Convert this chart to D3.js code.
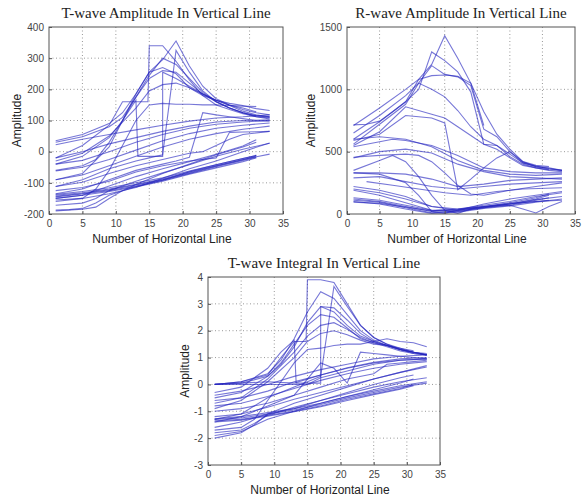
<!DOCTYPE html>
<html>
<head>
<meta charset="utf-8">
<script src="https://cdn.jsdelivr.net/npm/d3@7"></script>
<style>
  body { margin: 0; background: #fff; }
  svg { display: block; }
</style>
</head>
<body>
<script>
// x ticks are shared by all three panels
const xTicks = [0, 5, 10, 15, 20, 25, 30, 35];
const tAmpTicks = [-200, -100, 0, 100, 200, 300, 400];
const rAmpTicks = [0, 500, 1000, 1500];
const tIntTicks = [-3, -2, -1, 0, 1, 2, 3, 4];

// each series is a list of [horizontal line number, amplitude] vertices
const tAmpSeries = [
  [[1,35],[5,55],[9,90],[11,125],[13,185],[15,255],[17,295],[19,355],[21,275],[23,210],[25,170],[27,150],[29,135],[31,125],[33,118]],
  [[1,30],[5,48],[9,80],[11,110],[13,175],[15,245],[17,300],[19,280],[21,235],[23,190],[25,160],[27,140],[29,125],[31,115],[33,110]],
  [[1,-20],[5,20],[9,85],[11,160],[14.8,160],[15,340],[17,340],[19,290],[21,230],[23,180],[25,150],[27,135],[29,122],[31,112],[33,108]],
  [[1,-40],[5,-15],[9,45],[11,100],[13,175],[15,235],[17,260],[19,255],[21,220],[23,185],[25,165],[27,148],[29,130],[31,118],[33,112]],
  [[1,-60],[5,-45],[7,-25],[9,30],[11,100],[13,185],[15,255],[17,270],[19,250],[21,205],[23,180],[25,165],[27,155],[29,148],[31,138],[33,132]],
  [[1,-90],[5,-70],[9,15],[11,100],[13,165],[13.3,-15],[17,-15],[17,255],[19,235],[21,210],[23,185],[25,160],[27,140],[29,125],[31,112],[33,105]],
  [[1,-112],[5,-90],[9,-55],[13,-30],[15,-20],[17,-10],[19,325],[21,255],[23,195],[25,160],[27,140],[29,125],[31,115],[33,112]],
  [[1,-30],[5,-5],[9,50],[13,140],[15,195],[17,215],[19,220],[21,205],[23,185],[25,165],[27,150],[29,140],[31,128]],
  [[1,-160],[5,-150],[7,-120],[9,-60],[11,20],[13,100],[15,150],[17,155],[19,152],[21,152],[23,150],[25,150],[27,148],[29,146],[31,145]],
  [[1,22],[5,40],[9,55],[13,70],[17,85],[21,98],[25,108],[29,112],[33,118]],
  [[1,-20],[5,0],[9,25],[13,45],[17,65],[21,82],[25,95],[29,100],[33,102]],
  [[1,-40],[5,-28],[9,0],[13,30],[17,55],[21,75],[25,88],[29,95],[33,100]],
  [[1,-62],[5,-50],[9,-25],[13,5],[17,35],[21,58],[25,75],[29,85],[33,92]],
  [[1,-90],[5,-75],[9,-45],[13,-15],[17,15],[21,40],[25,58],[29,72],[33,82]],
  [[1,-135],[5,-120],[9,-90],[13,-60],[17,-40],[19,-30],[21,-18],[23,125],[25,118],[27,112],[29,106],[31,100],[33,98]],
  [[1,-112],[5,-98],[9,-70],[13,-45],[17,-25],[21,-5],[23,0],[25,20],[27,40],[29,55],[33,65]],
  [[1,-125],[5,-115],[9,-95],[13,-65],[17,-45],[21,-30],[25,-20],[27,62],[29,63],[31,64],[33,65]],
  [[1,-150],[5,-140],[9,-110],[13,-80],[17,-55],[21,-32],[25,-8],[29,18],[31,38]],
  [[1,-172],[5,-165],[7,-150],[9,-125],[13,-95],[17,-68],[21,-42],[25,-15],[29,8],[33,27]],
  [[1,-140],[5,-132],[9,-120],[13,-105],[17,-88],[21,-65],[25,-45],[29,-25],[33,-8]],
  [[1,-145],[5,-136],[9,-125],[13,-110],[17,-92],[21,-70],[25,-48],[29,-28],[31,-18]],
  [[1,-150],[5,-140],[9,-128],[13,-113],[17,-95],[21,-72],[25,-52],[29,-32],[31,-20]],
  [[1,-137],[5,-128],[9,-116],[13,-100],[17,-84],[21,-62],[25,-42],[29,-22],[31,-12]],
  [[1,-143],[5,-134],[9,-122],[13,-107],[17,-90],[21,-68],[25,-46],[29,-26],[31,-14]],
  [[1,-187],[3,-186],[5,-182],[7,-165],[9,-140],[13,-112],[17,-92],[21,-64],[25,-42],[29,-22],[31,-12]],
  [[1,-190],[5,-185],[7,-178],[9,-150],[11,-125],[13,-105],[17,-70],[21,-40],[25,-10],[29,15],[31,30]],
  [[1,-155],[5,-150],[9,-135],[13,-115],[17,-85],[21,-55],[25,-30],[29,0],[33,28]]
];

const rAmpSeries = [
  [[1,710],[5,850],[9,1000],[11,1080],[13,1200],[15,1430],[17,1250],[19,1050],[21,710]],
  [[1,715],[3,720],[5,745],[7,820],[9,900],[11,1000],[13,1300],[15,1230],[17,1140],[19,980],[21,560],[23,550],[25,460],[27,400],[29,370],[31,355]],
  [[1,650],[5,790],[9,950],[11,1050],[13,1190],[15,1120],[17,1100],[19,1030],[21,680],[23,620],[25,500],[27,410],[29,380],[31,370],[33,350]],
  [[1,600],[5,740],[9,900],[11,1080],[13,1110],[15,1115],[17,1105],[19,1050],[21,820],[23,640],[25,520],[27,420],[29,390],[31,380]],
  [[1,560],[5,720],[9,880],[11,1050],[13,1000],[15,940],[17,830],[19,700],[21,600],[23,550],[25,480],[27,410],[29,385],[31,365],[33,350]],
  [[1,550],[5,660],[9,860],[13,800],[15,770],[17,700],[19,630],[21,560],[23,520],[25,450],[27,390],[29,370],[31,350],[33,340]],
  [[1,590],[5,640],[9,790],[13,770],[15,730],[17,195],[19,280],[21,370],[23,450],[25,500],[27,420],[29,380],[31,360],[33,350]],
  [[1,600],[5,620],[9,600],[13,540],[17,430],[21,350],[25,320],[29,310],[33,320]],
  [[1,540],[5,580],[7,600],[9,590],[13,550],[17,470],[21,370],[25,340],[29,330],[33,330]],
  [[1,450],[5,500],[9,520],[13,490],[17,400],[21,340],[25,300],[29,290],[33,280]],
  [[1,455],[5,470],[9,480],[11,470],[13,420],[15,330],[17,230],[19,160],[21,150],[25,190],[29,220],[33,250]],
  [[1,350],[5,430],[7,470],[9,420],[11,300],[13,150],[15,30],[17,5],[19,40],[23,70],[27,90],[31,110]],
  [[1,330],[5,320],[9,250],[11,150],[13,20],[15,5],[17,30],[21,80],[25,120],[29,150],[33,180]],
  [[1,290],[5,300],[9,260],[13,220],[17,200],[21,220],[25,240],[29,250],[33,260]],
  [[3,260],[7,230],[11,200],[15,170],[19,150],[23,180],[27,200],[33,210]],
  [[1,330],[5,330],[9,320],[13,280],[17,220],[21,240],[25,270],[29,280],[33,290]],
  [[1,200],[5,170],[9,120],[13,60],[17,40],[21,70],[25,100],[29,140],[33,170]],
  [[1,190],[5,150],[9,90],[13,30],[17,20],[21,50],[25,80],[29,120],[31,150]],
  [[1,120],[5,100],[9,60],[13,20],[17,30],[21,55],[25,80],[29,115],[33,140]],
  [[1,110],[5,95],[9,50],[13,10],[17,25],[21,50],[25,70],[29,110],[31,130]],
  [[1,100],[5,80],[9,40],[13,5],[17,15],[21,45],[25,65],[29,95],[33,120]],
  [[1,130],[5,110],[9,70],[13,30],[17,35],[21,60],[25,90],[29,130],[31,160]],
  [[1,220],[5,190],[9,140],[13,60],[17,30],[21,60],[25,70],[27,40],[29,8],[31,60],[33,100]],
  [[1,95],[5,85],[9,55],[13,25],[17,40],[21,60],[25,85],[29,100],[33,110]]
];

const tIntSeries = [
  [[1,0],[5,0.1],[9,0.35],[11,1.0],[13,1.6],[14.8,1.6],[15,3.9],[17,3.9],[19,3.8],[21,3.0],[23,2.2],[25,1.75],[27,1.5],[29,1.3],[31,1.2],[33,1.1]],
  [[1,-0.3],[5,-0.1],[9,0.6],[11,1.2],[13,1.65],[13.3,0.05],[17,0.05],[17,2.9],[19,2.7],[21,2.2],[23,1.8],[25,1.6],[27,1.45],[29,1.3],[31,1.2],[33,1.1]],
  [[1,-1.3],[5,-1.1],[9,-0.5],[13,-0.1],[15,0.1],[17,0.3],[19,3.65],[21,2.9],[23,2.2],[25,1.75],[27,1.5],[29,1.35],[31,1.2],[33,1.15]],
  [[1,0],[5,0.1],[9,0.4],[11,0.9],[13,1.7],[15,2.7],[17,3.45],[19,3.2],[21,2.6],[23,2.0],[25,1.65],[27,1.45],[29,1.3],[31,1.15],[33,1.1]],
  [[1,0],[5,0.05],[9,0.3],[11,0.75],[13,1.4],[15,2.3],[17,2.9],[19,2.85],[21,2.4],[23,1.9],[25,1.6],[27,1.45],[29,1.3],[31,1.2]],
  [[1,-0.5],[5,-0.3],[9,0.3],[11,0.8],[13,1.5],[15,2.2],[17,2.6],[19,2.5],[21,2.1],[23,1.7],[25,1.55],[27,1.4],[29,1.25],[31,1.15],[33,1.1]],
  [[1,-0.7],[5,-0.5],[9,0.2],[13,1.2],[15,1.8],[17,2.2],[19,2.3],[21,2.05],[23,1.75],[25,1.55],[27,1.45],[29,1.3],[31,1.2],[33,1.1]],
  [[1,-0.9],[5,-0.6],[9,0.1],[13,1.0],[15,1.6],[17,1.9],[19,2.0],[21,1.85],[23,1.65],[25,1.5],[27,1.45],[29,1.35],[31,1.25]],
  [[1,-1.7],[5,-1.6],[7,-1.3],[9,-0.6],[11,0.1],[13,0.8],[15,1.3],[17,1.35],[19,1.45],[21,1.5],[23,1.5],[25,1.6],[27,1.7],[29,1.6],[31,1.55],[33,1.4]],
  [[1,0],[3,0],[5,0],[9,0],[13,0],[15,0],[17,0.25],[21,0.5],[25,0.75],[29,0.9],[33,0.95]],
  [[1,0.02],[5,0.05],[9,0.1],[13,0.05],[17,0.35],[21,0.62],[25,0.82],[29,0.95],[33,1.0]],
  [[1,-0.4],[5,-0.25],[9,0],[13,0.3],[17,0.55],[21,0.75],[25,0.95],[29,1.05],[33,1.1]],
  [[1,-0.6],[5,-0.5],[9,-0.25],[13,0.1],[17,0.35],[21,0.6],[25,0.8],[29,0.9],[33,0.95]],
  [[1,-1.4],[5,-1.2],[9,-0.8],[13,-0.4],[17,0.8],[19,0.6],[21,0.05],[23,1.2],[25,1.15],[27,1.1],[29,1.05],[31,1.0],[33,0.95]],
  [[1,-0.8],[5,-0.7],[9,-0.45],[13,-0.15],[17,0.15],[21,0.4],[25,0.6],[29,0.75],[33,0.85]],
  [[1,-1.0],[5,-0.9],[9,-0.7],[13,-0.4],[17,-0.1],[21,0.2],[25,0.4],[27,0.75],[29,0.8],[31,0.85],[33,0.9]],
  [[1,-1.2],[5,-1.1],[9,-0.85],[13,-0.55],[17,-0.3],[21,-0.05],[25,0.2],[29,0.45],[33,0.65]],
  [[1,-1.3],[5,-1.25],[9,-1.1],[13,-0.95],[17,-0.75],[21,-0.5],[25,-0.3],[29,-0.1],[33,0.05]],
  [[1,-1.35],[5,-1.3],[9,-1.15],[13,-1.0],[17,-0.8],[21,-0.55],[25,-0.35],[29,-0.15],[31,0]],
  [[1,-1.28],[5,-1.2],[9,-1.05],[13,-0.9],[17,-0.7],[21,-0.45],[25,-0.25],[29,-0.05],[33,0.1]],
  [[1,-1.4],[5,-1.33],[9,-1.18],[13,-1.02],[17,-0.83],[21,-0.6],[25,-0.38],[29,-0.18],[31,-0.05]],
  [[1,-1.6],[5,-1.4],[9,-1.1],[13,-0.9],[17,-0.6],[21,-0.35],[25,-0.1],[29,0.1],[33,0.25]],
  [[1,-1.8],[5,-1.7],[7,-1.45],[9,-1.15],[13,-0.85],[17,-0.6],[21,-0.3],[25,0],[29,0.25],[31,0.35]],
  [[1,-2.0],[5,-1.8],[7,-1.5],[9,-1.1],[13,-0.7],[17,-0.4],[21,-0.1],[25,0.2],[29,0.45],[33,0.7]],
  [[1,-1.9],[5,-1.75],[9,-1.3],[13,-1.0],[17,-0.7],[21,-0.45],[25,-0.2],[29,0.05],[31,0.2]]
];

const width = 582, height = 499;

const svg = d3.select("body").append("svg")
    .attr("width", width)
    .attr("height", height);

const panels = [
  { title: "T-wave Amplitude In Vertical Line", series: tAmpSeries, yTicks: tAmpTicks, yDomain: [-200, 400],
    left: 49, top: 27, w: 234, h: 187, ylabX: 17 },
  { title: "R-wave Amplitude In Vertical Line", series: rAmpSeries, yTicks: rAmpTicks, yDomain: [0, 1500],
    left: 347, top: 27, w: 228, h: 187, ylabX: 311 },
  { title: "T-wave Integral In Vertical Line", series: tIntSeries, yTicks: tIntTicks, yDomain: [-3, 4],
    left: 208, top: 277, w: 232, h: 188, ylabX: 185 }
];

panels.forEach((p, i) => {
  const x = d3.scaleLinear().domain([0, 35]).range([p.left, p.left + p.w]);
  const y = d3.scaleLinear().domain(p.yDomain).range([p.top + p.h, p.top]);

  const g = svg.append("g");

  // dotted grid
  g.selectAll(".gx").data(xTicks.slice(1, -1)).enter().append("line")
      .attr("x1", d => x(d)).attr("x2", d => x(d))
      .attr("y1", p.top).attr("y2", p.top + p.h)
      .attr("stroke", "#999").attr("stroke-dasharray", "1,2.5");
  g.selectAll(".gy").data(p.yTicks.slice(1, -1)).enter().append("line")
      .attr("x1", p.left).attr("x2", p.left + p.w)
      .attr("y1", d => y(d)).attr("y2", d => y(d))
      .attr("stroke", "#999").attr("stroke-dasharray", "1,2.5");

  // data lines
  const line = d3.line().x(d => x(d[0])).y(d => y(d[1]));
  g.append("clipPath").attr("id", "clip" + i)
    .append("rect").attr("x", p.left).attr("y", p.top).attr("width", p.w).attr("height", p.h);
  g.append("g").attr("clip-path", `url(#clip${i})`)
    .selectAll("path").data(p.series).enter().append("path")
      .attr("d", line)
      .attr("fill", "none")
      .attr("stroke", "rgb(35,35,190)")
      .attr("stroke-opacity", 0.62)
      .attr("stroke-width", 1.1);

  // frame
  g.append("rect")
      .attr("x", p.left).attr("y", p.top).attr("width", p.w).attr("height", p.h)
      .attr("fill", "none").attr("stroke", "#555");

  // axes with inward ticks, plain labels with hyphen minus
  const fmt = d => String(d);
  const xAxis = d3.axisBottom(x).tickValues(xTicks).tickFormat(fmt).tickSize(-3).tickPadding(6);
  const yAxis = d3.axisLeft(y).tickValues(p.yTicks).tickFormat(fmt).tickSize(-3).tickPadding(5);
  g.append("g").attr("transform", `translate(0,${p.top + p.h})`).call(xAxis);
  g.append("g").attr("transform", `translate(${p.left},0)`).call(yAxis);
  g.selectAll(".domain").remove();
  g.selectAll(".tick line").attr("stroke", "#555");
  g.selectAll(".tick text").attr("fill", "#444")
      .style("font-family", "Arial, 'Liberation Sans', sans-serif").style("font-size", "10px");

  // titles and labels
  g.append("text")
      .attr("x", p.left + p.w / 2).attr("y", p.top - 9)
      .attr("text-anchor", "middle")
      .style("font-family", "'Liberation Serif', 'Times New Roman', serif").style("font-size", "15px")
      .attr("fill", "#222")
      .text(p.title);
  g.append("text")
      .attr("x", p.left + p.w / 2 - 4).attr("y", p.top + p.h + 29)
      .attr("text-anchor", "middle")
      .style("font-family", "Arial, 'Liberation Sans', sans-serif").style("font-size", "12px")
      .attr("fill", "#222")
      .text("Number of Horizontal Line");
  g.append("text")
      .attr("transform", `translate(${p.ylabX + 4},${p.top + p.h / 2}) rotate(-90)`)
      .attr("text-anchor", "middle")
      .style("font-family", "Arial, 'Liberation Sans', sans-serif").style("font-size", "12px")
      .attr("fill", "#222")
      .text("Amplitude");
});
</script>
</body>
</html>
